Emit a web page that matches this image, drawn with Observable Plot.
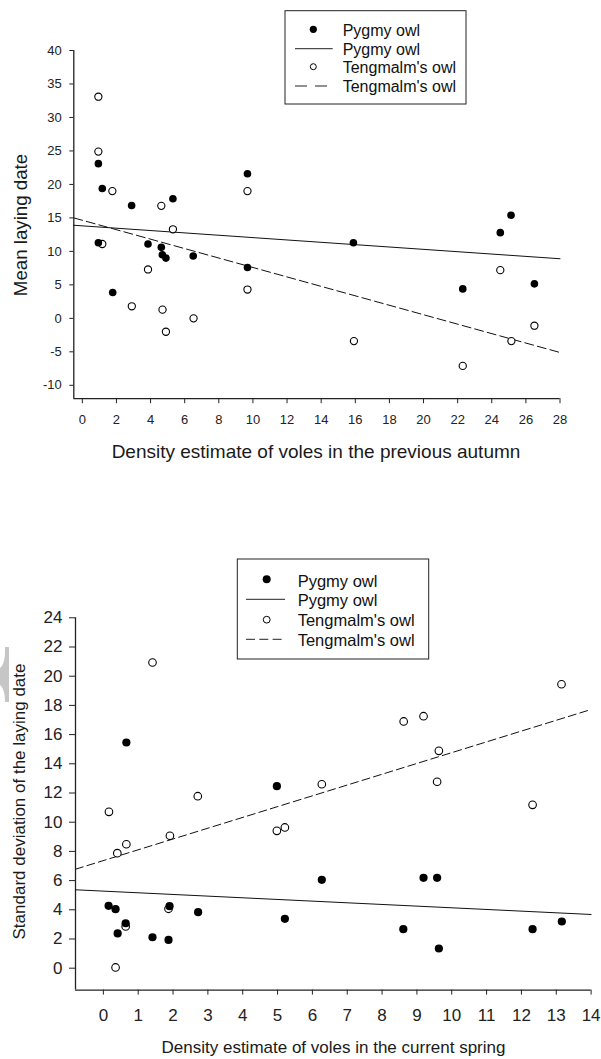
<!DOCTYPE html>
<html><head><meta charset="utf-8">
<script src="https://cdn.jsdelivr.net/npm/d3@7"></script>
<script src="https://cdn.jsdelivr.net/npm/@observablehq/plot@0.6"></script>
<style>
body{margin:0;background:#fff;}
#wrap{position:relative;width:601px;height:1059px;overflow:hidden;background:#fff;font-family:"Liberation Sans",Arial,sans-serif;}
#wrap svg{position:absolute;left:0;}
</style></head><body><div id="wrap"></div>
<script>
// ---------- data: top panel (previous autumn) ----------
const autumnPygmyX = [0.94,1.17,0.94,1.78,2.89,3.85,4.63,4.69,4.90,5.31,6.50,9.68,9.68,15.89,22.30,24.50,25.13,26.50];
const autumnPygmyY = [23.1,19.4,11.3,3.85,16.85,11.1,10.6,9.5,9.0,17.85,9.3,21.6,7.6,11.3,4.4,12.8,15.4,5.15];
const autumnTengX = [0.94,0.94,1.76,1.17,4.63,5.31,3.85,2.90,4.70,4.90,6.52,9.68,9.68,15.92,22.30,24.50,25.15,26.50];
const autumnTengY = [33.1,24.9,19.0,11.1,16.8,13.3,7.3,1.8,1.3,-2.0,0.0,19.0,4.3,-3.4,-7.1,7.2,-3.4,-1.1];
const autumnFitX = [-0.5, 28];
const autumnPygmyFitY = [13.9, 8.9];
const autumnTengFitY = [15.0, -5.1];
const autumnXTicks = [0,2,4,6,8,10,12,14,16,18,20,22,24,26,28];
const autumnYTicks = [-10,-5,0,5,10,15,20,25,30,35,40];
const autumnXDomain = [-0.5, 28];
const autumnYDomain = [-12, 40];
const autumnXTitle = "Density estimate of voles in the previous autumn";
const autumnYTitle = "Mean laying date";

// ---------- data: bottom panel (current spring) ----------
const springPygmyX = [0.15,0.35,0.41,0.64,0.66,1.41,1.87,1.90,2.72,4.98,5.21,6.27,8.61,9.19,9.58,9.63,12.32,13.16];
const springPygmyY = [4.27,4.04,2.38,3.08,15.46,2.12,1.94,4.25,3.84,12.47,3.38,6.05,2.67,6.19,6.19,1.35,2.67,3.20];
const springTengX = [0.16,0.35,0.40,0.64,0.66,1.41,1.87,1.91,2.71,4.98,5.21,6.27,8.62,9.19,9.58,9.63,12.32,13.15];
const springTengY = [10.71,0.05,7.88,2.86,8.49,20.94,4.07,9.07,11.78,9.41,9.64,12.60,16.90,17.26,12.77,14.89,11.19,19.45];
const springFitX = [-0.8, 14];
const springPygmyFitY = [5.37, 3.68];
const springTengFitY = [6.78, 17.72];
const springXTicks = [0,1,2,3,4,5,6,7,8,9,10,11,12,13,14];
const springYTicks = [0,2,4,6,8,10,12,14,16,18,20,22,24];
const springXDomain = [-0.8, 14];
const springYDomain = [-1.5, 24];
const springXTitle = "Density estimate of voles in the current spring";
const springYTitle = "Standard deviation of the laying date";

const seriesLabels = ["Pygmy owl", "Tengmalm's owl"];

const wrap = document.getElementById("wrap");
const pts = (xs, ys) => xs.map((x, i) => ({x, y: ys[i]}));

function panel(o) {
  const svg = Plot.plot({
    width: 601, height: o.height,
    marginLeft: o.ml, marginRight: o.mr, marginTop: o.mt, marginBottom: o.mb,
    style: {fontFamily: "Liberation Sans, Arial, sans-serif", color: "#222", background: "transparent", overflow: "visible"},
    x: {domain: o.xDomain},
    y: {domain: o.yDomain},
    marks: [
      Plot.ruleY([o.yDomain[0]], {x1: o.xDomain[0], x2: o.xDomain[1], stroke: "#222", strokeWidth: 1.3}),
      Plot.ruleX([o.xDomain[0]], {y1: o.yDomain[0], y2: o.yDomain[1], stroke: "#222", strokeWidth: 1.3}),
      Plot.axisX(o.xTicks, {anchor: "bottom", tickSize: o.xts, tickPadding: o.xtp, fontSize: o.fs, tickFormat: d => String(d), label: null, stroke: "#222"}),
      Plot.axisY(o.yTicks, {anchor: "left", tickSize: o.yts, tickPadding: o.ytp, fontSize: o.fs, tickFormat: d => String(d), label: null, stroke: "#222"}),
      Plot.line(pts(o.fitX, o.pFit), {x: "x", y: "y", stroke: "#111", strokeWidth: 1}),
      Plot.line(pts(o.fitX, o.tFit), {x: "x", y: "y", stroke: "#111", strokeWidth: 1, strokeDasharray: o.dash}),
      Plot.dot(pts(o.tX, o.tY), {x: "x", y: "y", r: o.ro, fill: "#fff", stroke: "#000", strokeWidth: 1.1}),
      Plot.dot(pts(o.pX, o.pY), {x: "x", y: "y", r: o.rf, fill: "#000", stroke: "none"})
    ]
  });
  svg.style.top = o.top + "px";
  wrap.appendChild(svg);
}

panel({top: 0, height: 480, ml: 73.3, mr: 41.5, mt: 50, mb: 81.8,
  xDomain: autumnXDomain, yDomain: autumnYDomain, xTicks: autumnXTicks, yTicks: autumnYTicks,
  xts: 5, xtp: 11, yts: 4, ytp: 8, fs: 13,
  fitX: autumnFitX, pFit: autumnPygmyFitY, tFit: autumnTengFitY, dash: "9,4",
  pX: autumnPygmyX, pY: autumnPygmyY, tX: autumnTengX, tY: autumnTengY, rf: 3.8, ro: 3.6});

panel({top: 540, height: 519, ml: 75, mr: 10.4, mt: 77.3, mb: 69.4,
  xDomain: springXDomain, yDomain: springYDomain, xTicks: springXTicks, yTicks: springYTicks,
  xts: 5, xtp: 14, yts: 6, ytp: 7, fs: 17,
  fitX: springFitX, pFit: springPygmyFitY, tFit: springTengFitY, dash: "8,4",
  pX: springPygmyX, pY: springPygmyY, tX: springTengX, tY: springTengY, rf: 4.1, ro: 3.8});

// ---------- overlay: axis titles, legends ----------
const NS = "http://www.w3.org/2000/svg";
const ov = document.createElementNS(NS, "svg");
ov.setAttribute("width", 601); ov.setAttribute("height", 1059);
ov.style.top = "0px";
ov.style.fontFamily = "Liberation Sans, Arial, sans-serif";
wrap.appendChild(ov);
function el(tag, attrs, text) {
  const e = document.createElementNS(NS, tag);
  for (const k in attrs) e.setAttribute(k, attrs[k]);
  if (text != null) e.textContent = text;
  ov.appendChild(e);
  return e;
}
// faint grey artifact at left edge
el("path", {d: "M5,647 H9 V702 H5 C5,693 3,687 0,685 V668 C3,666 5,660 5,651 Z", fill: "#c6c6c6"});

// titles
el("text", {x: 316, y: 457.7, "text-anchor": "middle", "font-size": 19, fill: "#1a1a1a"}, autumnXTitle);
el("text", {transform: "translate(26.7,225) rotate(-90)", "text-anchor": "middle", "font-size": 18.7, fill: "#1a1a1a"}, autumnYTitle);
el("text", {x: 333.5, y: 1052.7, "text-anchor": "middle", "font-size": 17, fill: "#1a1a1a"}, springXTitle);
el("text", {transform: "translate(24.5,801.5) rotate(-90)", "text-anchor": "middle", "font-size": 17, fill: "#1a1a1a"}, springYTitle);

function legend(L) {
  el("rect", {x: L.x, y: L.y, width: L.w, height: L.h, fill: "#fff", stroke: "#222", "stroke-width": 1});
  el("circle", {cx: L.cx, cy: L.my[0], r: L.rf, fill: "#000"});
  el("line", {x1: L.lx1, x2: L.lx2, y1: L.my[1], y2: L.my[1], stroke: "#222", "stroke-width": 1});
  el("circle", {cx: L.cx, cy: L.my[2], r: L.ro, fill: "#fff", stroke: "#000", "stroke-width": 1});
  el("line", {x1: L.lx1, x2: L.lx2, y1: L.my[3], y2: L.my[3], stroke: "#222", "stroke-width": 1, "stroke-dasharray": L.dash});
  const labs = [seriesLabels[0], seriesLabels[0], seriesLabels[1], seriesLabels[1]];
  labs.forEach((t, i) => el("text", {x: L.tx, y: L.by[i], "font-size": L.fs, fill: "#111"}, t));
}
legend({x: 285, y: 10.7, w: 181, h: 93.3, cx: 313.3, rf: 3.6, ro: 3.0, lx1: 295, lx2: 332.7,
  my: [29.3, 48.7, 66.7, 86], by: [36, 54.8, 73.3, 91.5], tx: 342.7, fs: 16, dash: "12,8"});
legend({x: 237.3, y: 559, w: 191.4, h: 100, cx: 266.7, rf: 4, ro: 3.4, lx1: 246, lx2: 285,
  my: [579.3, 599.3, 619.7, 639.3], by: [587.3, 606, 626, 646], tx: 297.7, fs: 16.5, dash: "9,4.3"});
</script></body></html>
